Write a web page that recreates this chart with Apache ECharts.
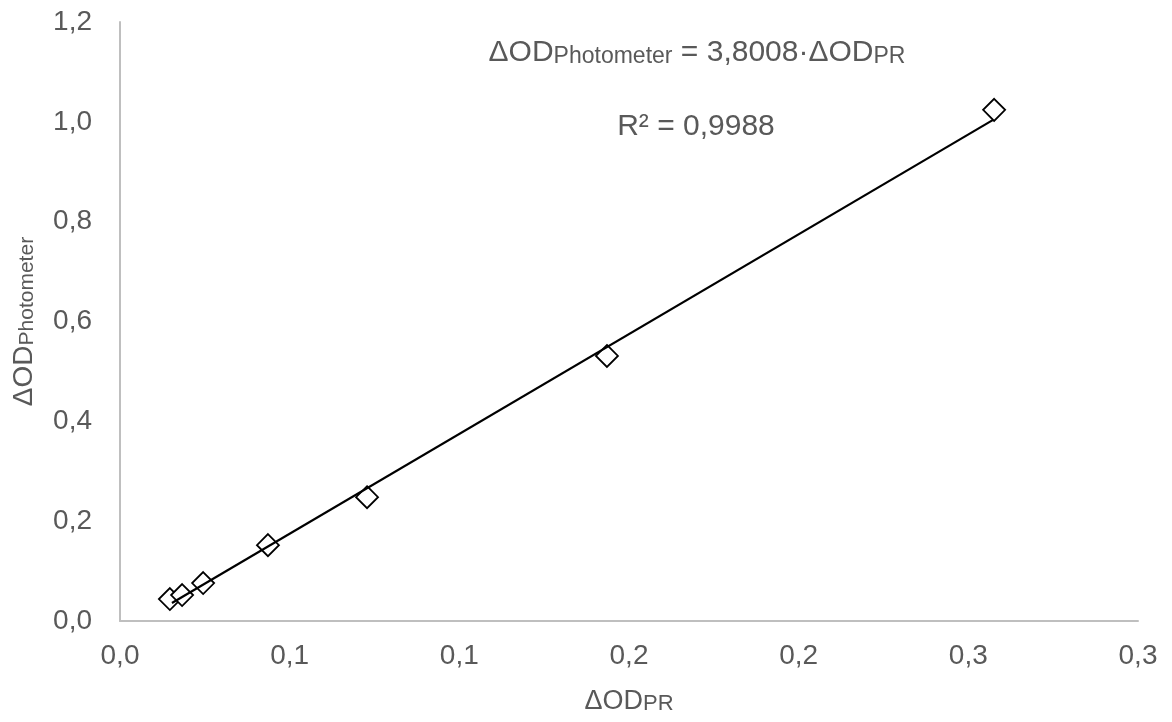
<!DOCTYPE html>
<html>
<head>
<meta charset="utf-8">
<script src="https://cdn.jsdelivr.net/npm/echarts@6/dist/echarts.min.js"></script>
<style>
  html, body { margin: 0; padding: 0; background: #fff; }
  #chart { width: 1172px; height: 722px; }
</style>
</head>
<body>
<div id="chart"></div>
<script>
// ---- data ----
const xValues = [0.0147, 0.0183, 0.0245, 0.0436, 0.0728, 0.1435, 0.2576];
const yValues = [0.044, 0.052, 0.076, 0.152, 0.248, 0.531, 1.024];
const trendX = [0.0153, 0.2573];
const trendY = [0.036, 1.004];
const xTickLabels = ['0,0', '0,1', '0,1', '0,2', '0,2', '0,3', '0,3'];
const yTickLabels = ['0,0', '0,2', '0,4', '0,6', '0,8', '1,0', '1,2'];
const equationMain = ['ΔOD', ' = 3,8008·ΔOD'];
const equationSub = ['Photometer', 'PR'];
const r2Text = 'R² = 0,9988';

const FONT = '"Liberation Sans", Arial, sans-serif';
const GREY = '#595959';

const points = xValues.map((x, i) => [x, yValues[i]]);
const trend = trendX.map((x, i) => [x, trendY[i]]);

const chart = echarts.init(document.getElementById('chart'), null, { renderer: 'canvas' });
chart.setOption({
  backgroundColor: '#ffffff',
  animation: false,
  grid: { left: 120, right: 34, top: 22, bottom: 101, containLabel: false },
  xAxis: {
    type: 'value', min: 0, max: 0.3, interval: 0.05,
    name: '{big|ΔOD}{small|PR}',
    nameLocation: 'middle', nameGap: 67,
    nameTextStyle: {
      rich: {
        big: { fontSize: 27, color: GREY, fontFamily: FONT, verticalAlign: 'bottom' },
        small: { fontSize: 22, color: GREY, fontFamily: FONT, verticalAlign: 'bottom' }
      }
    },
    axisLine: { show: true, lineStyle: { color: '#BFBFBF', width: 2 } },
    axisTick: { show: false },
    splitLine: { show: false },
    axisLabel: {
      margin: 21, fontSize: 28, color: GREY, fontFamily: FONT,
      formatter: (v, i) => xTickLabels[i]
    }
  },
  yAxis: {
    type: 'value', min: 0, max: 1.2, interval: 0.2,
    name: '{big|ΔOD}{small|Photometer}',
    nameLocation: 'middle', nameGap: 82, nameRotate: 90,
    nameTextStyle: {
      rich: {
        big: { fontSize: 28, color: GREY, fontFamily: FONT, verticalAlign: 'bottom' },
        small: { fontSize: 21, color: GREY, fontFamily: FONT, verticalAlign: 'bottom' }
      }
    },
    axisLine: { show: true, lineStyle: { color: '#BFBFBF', width: 2 } },
    axisTick: { show: false },
    splitLine: { show: false },
    axisLabel: {
      margin: 28, fontSize: 28, color: GREY, fontFamily: FONT,
      formatter: (v, i) => yTickLabels[i]
    }
  },
  series: [
    {
      type: 'scatter', data: points, symbol: 'diamond', symbolSize: 22,
      itemStyle: { color: '#ffffff', borderColor: '#000000', borderWidth: 1.8, opacity: 1 },
      z: 2
    },
    {
      type: 'line', data: trend, showSymbol: false, symbol: 'none',
      lineStyle: { color: '#000000', width: 2.2 },
      z: 3
    }
  ],
  graphic: [
    {
      type: 'text', x: 697, y: 53,
      style: {
        text: '{big|' + equationMain[0] + '}{small|' + equationSub[0] + '}{big|' + equationMain[1] + '}{small|' + equationSub[1] + '}',
        align: 'center', verticalAlign: 'middle',
        rich: {
          big: { fontSize: 30, fill: GREY, fontFamily: FONT, verticalAlign: 'bottom' },
          small: { fontSize: 23, fill: GREY, fontFamily: FONT, verticalAlign: 'bottom' }
        }
      }
    },
    {
      type: 'text', x: 696, y: 127,
      style: {
        text: r2Text, fontSize: 30, fill: GREY, fontFamily: FONT,
        align: 'center', verticalAlign: 'middle'
      }
    }
  ]
});
</script>
</body>
</html>
